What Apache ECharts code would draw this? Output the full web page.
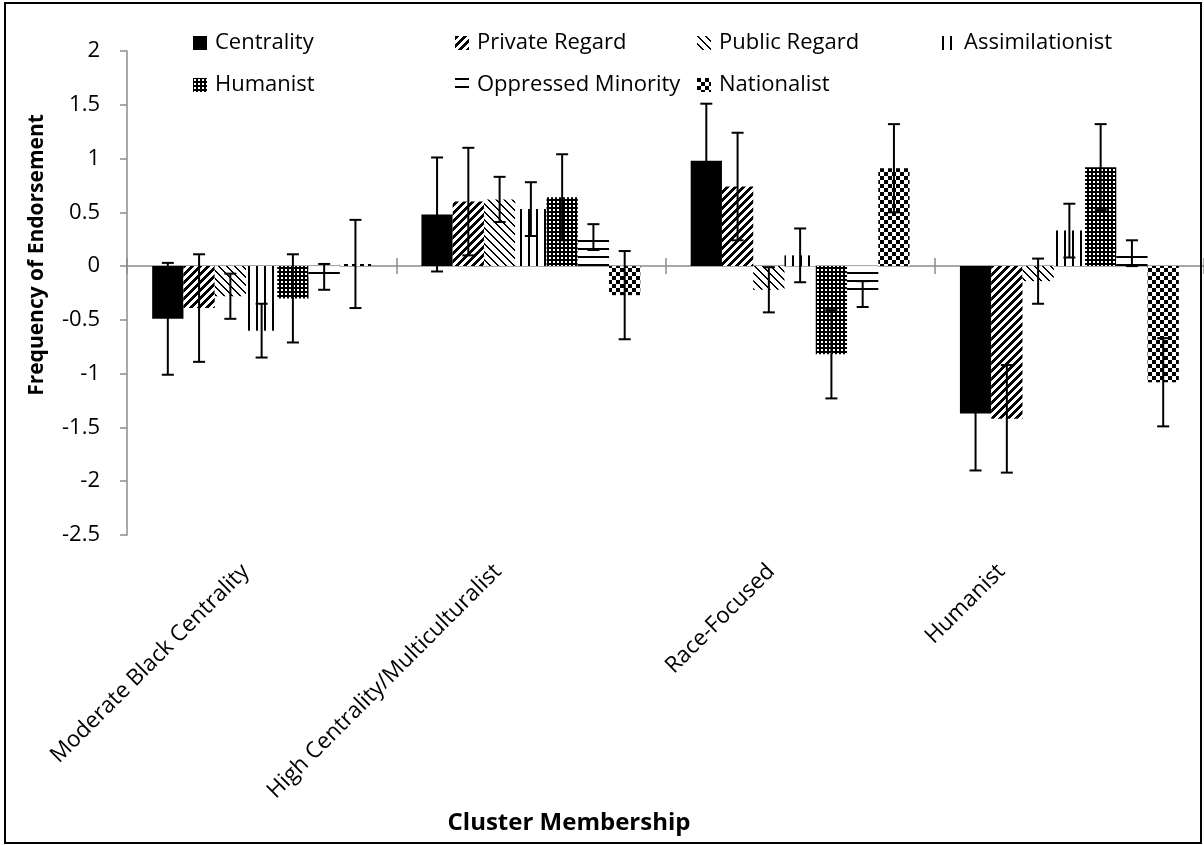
<!DOCTYPE html>
<html>
<head>
<meta charset="utf-8">
<title>Frequency of Endorsement by Cluster Membership</title>
<script src="https://cdn.jsdelivr.net/npm/echarts@6/dist/echarts.min.js"></script>
<style>
  html, body { margin: 0; padding: 0; background: #ffffff; }
  #chart { width: 1204px; height: 845px; }
</style>
</head>
<body>
<div id="chart"></div>
<script>
// Cluster categories along the x axis
const categories = ['Moderate Black Centrality', 'High Centrality/Multiculturalist', 'Race-Focused', 'Humanist'];

// Mean endorsement per identity dimension (one value per cluster)
const centrality      = [-0.49, 0.48, 0.98, -1.37];
const privateRegard   = [-0.39, 0.60, 0.74, -1.42];
const publicRegard    = [-0.28, 0.62, -0.22, -0.14];
const assimilationist = [-0.60, 0.53, 0.10, 0.33];
const humanist        = [-0.30, 0.64, -0.82, 0.92];
const oppressed       = [-0.10, 0.27, -0.26, 0.12];
const nationalist     = [0.02, -0.27, 0.91, -1.08];

// Error bar half-lengths per dimension
const centralityErr      = [0.52, 0.53, 0.53, 0.53];
const privateRegardErr   = [0.50, 0.50, 0.50, 0.50];
const publicRegardErr    = [0.21, 0.21, 0.21, 0.21];
const assimilationistErr = [0.25, 0.25, 0.25, 0.25];
const humanistErr        = [0.41, 0.40, 0.41, 0.40];
const oppressedErr       = [0.12, 0.12, 0.12, 0.12];
const nationalistErr     = [0.41, 0.41, 0.41, 0.41];

// Y axis range and step
const yMin = -2.5, yMax = 2, yStep = 0.5;

const FONT = '"Open Sans", "Liberation Sans", sans-serif';

// Monochrome fill patterns, built pixel by pixel on small tiles
function makeTile(w, h, isBlack) {
  const c = document.createElement('canvas');
  c.width = w; c.height = h;
  const ctx = c.getContext('2d');
  ctx.fillStyle = '#ffffff';
  ctx.fillRect(0, 0, w, h);
  ctx.fillStyle = '#000000';
  for (let y = 0; y < h; y++) {
    for (let x = 0; x < w; x++) {
      if (isBlack(x, y)) ctx.fillRect(x, y, 1, 1);
    }
  }
  return { image: c, repeat: 'repeat' };
}

const fills = {
  solid: '#000000',
  wideUp: makeTile(8, 8, (x, y) => (x + y) % 8 < 4),            // wide upward diagonal
  lightDown: makeTile(8, 8, (x, y) => (x - y + 8) % 8 < 2),      // light downward diagonal
  vertical: makeTile(8, 8, (x, y) => x % 8 < 2),                 // vertical lines
  smallGrid: makeTile(4, 4, (x, y) => !(x >= 1 && x < 3 && y >= 1 && y < 3)), // dense grid
  horizontal: makeTile(8, 8, (x, y) => y % 8 < 2),               // horizontal lines
  checker: makeTile(8, 8, (x, y) => ((x < 4) === (y < 4)))       // large checkerboard
};

const seriesDefs = [
  { name: 'Centrality',         values: centrality,      err: centralityErr,      fill: fills.solid },
  { name: 'Private Regard',     values: privateRegard,   err: privateRegardErr,   fill: fills.wideUp },
  { name: 'Public Regard',      values: publicRegard,    err: publicRegardErr,    fill: fills.lightDown },
  { name: 'Assimilationist',    values: assimilationist, err: assimilationistErr, fill: fills.vertical },
  { name: 'Humanist',           values: humanist,        err: humanistErr,        fill: fills.smallGrid },
  { name: 'Oppressed Minority', values: oppressed,       err: oppressedErr,       fill: fills.horizontal },
  { name: 'Nationalist',        values: nationalist,     err: nationalistErr,     fill: fills.checker }
];

const GAP_RATIO = 0.187;
const nSeries = seriesDefs.length;

// Legend: four columns, two rows
const legendCols = [193, 455, 697, 942];
const legendRows = [32, 74];

const legends = seriesDefs.map((s, i) => ({
  data: [s.name],
  left: legendCols[i % 4],
  top: legendRows[Math.floor(i / 4)],
  padding: 0,
  itemWidth: 14,
  itemHeight: 14,
  icon: 'rect',
  selectedMode: false,
  textStyle: { fontFamily: FONT, fontSize: 22, color: '#000', padding: [0, 0, 0, 3] }
}));

const barSeries = seriesDefs.map(s => ({
  type: 'bar',
  name: s.name,
  xAxisIndex: 0,
  yAxisIndex: 0,
  data: s.values,
  barGap: '0%',
  barCategoryGap: (GAP_RATIO * 100) + '%',
  itemStyle: { color: s.fill },
  emphasis: { disabled: true },
  z: 2
}));

const errData = [];
seriesDefs.forEach((s, si) => {
  s.values.forEach((v, ci) => errData.push([ci, si, v, s.err[ci]]));
});

const errorSeries = {
  type: 'custom',
  name: 'error',
  xAxisIndex: 0,
  yAxisIndex: 0,
  data: errData,
  encode: { x: 0, y: 2 },
  z: 10,
  silent: true,
  renderItem: function (params, api) {
    const ci = api.value(0), si = api.value(1), v = api.value(2), e = api.value(3);
    const band = api.size([1, 0])[0];
    const groupW = band * (1 - GAP_RATIO);
    const bw = groupW / nSeries;
    const cx = api.coord([ci, 0])[0] - groupW / 2 + (si + 0.5) * bw;
    const yTop = api.coord([ci, v + e])[1];
    const yBot = api.coord([ci, v - e])[1];
    const cap = 6;
    const st = { stroke: '#000', lineWidth: 2 };
    return {
      type: 'group',
      children: [
        { type: 'line', shape: { x1: cx, y1: yTop, x2: cx, y2: yBot }, style: st },
        { type: 'line', shape: { x1: cx - cap, y1: yTop, x2: cx + cap, y2: yTop }, style: st },
        { type: 'line', shape: { x1: cx - cap, y1: yBot, x2: cx + cap, y2: yBot }, style: st }
      ]
    };
  }
};

// Horizontal nudge (px, leftwards) of each 45-degree category label:
// half of it runs back along the text (right padding), half across it
// (bottom-aligned line box of matching height).
const labelNudge = [16, 33, 29, 68];
const categoryItems = categories.map((name, i) => {
  const d = labelNudge[i];
  return {
    value: name,
    textStyle: {
      verticalAlign: 'bottom',
      lineHeight: d * Math.SQRT2,
      padding: [0, d / Math.SQRT2, 0, 0]
    }
  };
});

const AXIS_GRAY = '#8c8c8c';

const option = {
  animation: false,
  backgroundColor: '#ffffff',
  legend: legends,
  grid: { left: 127, top: 51, width: 1078, height: 484, containLabel: false },
  xAxis: [
    { // category labels under the plot
      type: 'category', data: categoryItems, position: 'bottom',
      axisLine: { show: false, onZero: false }, axisTick: { show: false },
      axisLabel: { interval: 0, rotate: 45, margin: 33, fontFamily: FONT, fontSize: 22.5, color: '#000' },
      splitLine: { show: false }
    },
    { // zero line with downward tick marks
      type: 'category', data: categories, position: 'bottom',
      axisLine: { show: true, onZero: true, onZeroAxisIndex: 0, lineStyle: { color: AXIS_GRAY, width: 1.5 } },
      axisTick: { show: true, inside: false, length: 8, lineStyle: { color: AXIS_GRAY, width: 1.5 } },
      axisLabel: { show: false }, splitLine: { show: false }
    },
    { // upward tick marks on the zero line
      type: 'category', data: categories, position: 'top',
      axisLine: { show: false, onZero: true, onZeroAxisIndex: 0 },
      axisTick: { show: true, inside: false, length: 8, lineStyle: { color: AXIS_GRAY, width: 1.5 } },
      axisLabel: { show: false }, splitLine: { show: false }
    }
  ],
  yAxis: {
    type: 'value', min: yMin, max: yMax, interval: yStep,
    axisLine: { show: true, onZero: false, lineStyle: { color: AXIS_GRAY, width: 1.5 } },
    axisTick: { show: true, length: 7, lineStyle: { color: AXIS_GRAY, width: 1.5 } },
    axisLabel: { margin: 27, fontFamily: FONT, fontSize: 22, color: '#000' },
    splitLine: { show: false }
  },
  graphic: [
    { type: 'text', rotation: Math.PI / 2, x: 37, y: 255,
      style: { text: 'Frequency of Endorsement', fontFamily: FONT, fontSize: 21, fontWeight: 'bold',
               fill: '#000', align: 'center', verticalAlign: 'middle' } },
    { type: 'text', x: 569, y: 823,
      style: { text: 'Cluster Membership', fontFamily: FONT, fontSize: 24, fontWeight: 'bold',
               fill: '#000', align: 'center', verticalAlign: 'middle' } },
    { type: 'rect', shape: { x: 5, y: 3, width: 1196, height: 840 },
      style: { fill: 'none', stroke: '#000', lineWidth: 2 }, z: 100 }
  ],
  series: barSeries.concat([errorSeries])
};

const chart = echarts.init(document.getElementById('chart'), null, { renderer: 'canvas' });
chart.setOption(option);
</script>
</body>
</html>
